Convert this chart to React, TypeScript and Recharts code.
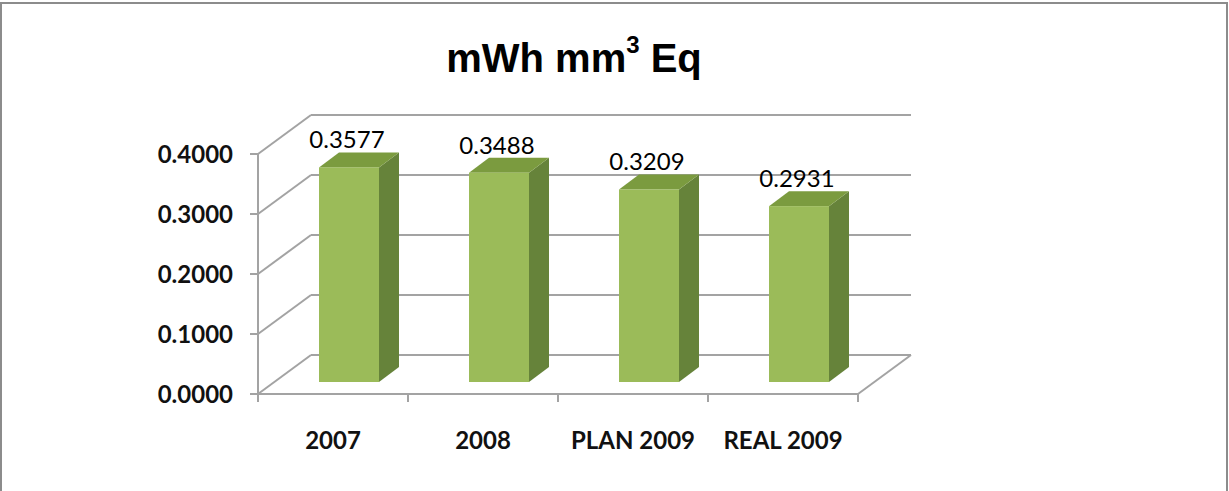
import React from 'react';
import { BarChart, Bar, XAxis, YAxis, CartesianGrid, LabelList } from 'recharts';

const categories = ['2007', '2008', 'PLAN 2009', 'REAL 2009'];
const values = [0.3577, 0.3488, 0.3209, 0.2931];
const yTicks = [0, 0.1, 0.2, 0.3, 0.4];
const titleMain = 'mWh mm';
const titleSup = '3';
const titleEnd = ' Eq';

const data = categories.map((c, i) => ({ name: c, value: values[i] }));

// layout constants (3D projection)
const W = 1229;
const H = 491;
const PLOT_LEFT = 258;
const PLOT_RIGHT = 858;
const PLOT_TOP = 154;
const PLOT_BOTTOM = 394;
const DEPTH_X = 53; // floor depth vector
const DEPTH_Y = -39;
const BAR_OFF_X = 16; // bar front plane offset from front
const BAR_OFF_Y = -12;
const BAR_D_X = 20; // bar depth
const BAR_D_Y = -15;
const SLOT = (PLOT_RIGHT - PLOT_LEFT) / categories.length;

const GRID = '#a3a3a3';
const FRONT = '#9BBB59';
const TOP = '#7B9B3F';
const SIDE = '#66833A';
const LABEL_FONT = 'Lato, "Open Sans", sans-serif';

const Box3D = (props: any) => {
  const { x, y, width, height } = props;
  if (height == null || width == null) return null;
  const fx = x + BAR_OFF_X;
  const fy = y + BAR_OFF_Y;
  const top = `${fx},${fy} ${fx + width},${fy} ${fx + width + BAR_D_X},${fy + BAR_D_Y} ${fx + BAR_D_X},${fy + BAR_D_Y}`;
  const side = `${fx + width},${fy} ${fx + width + BAR_D_X},${fy + BAR_D_Y} ${fx + width + BAR_D_X},${fy + height + BAR_D_Y} ${fx + width},${fy + height}`;
  return (
    <g>
      <polygon points={side} fill={SIDE} />
      <polygon points={top} fill={TOP} />
      <rect x={fx} y={fy} width={width} height={height} fill={FRONT} />
    </g>
  );
};

const GridLine = (props: any) => {
  const { x1, x2, y1, index } = props;
  const bx = x1 + DEPTH_X;
  const by = y1 + DEPTH_Y;
  return (
    <g key={`g-${index}`}>
      <line x1={x1} y1={y1} x2={bx} y2={by} stroke={GRID} strokeWidth={2} />
      <line x1={bx} y1={by} x2={x2 + DEPTH_X} y2={by} stroke={GRID} strokeWidth={2} />
      {index === 0 ? (
        <line x1={x2} y1={y1} x2={x2 + DEPTH_X} y2={by} stroke={GRID} strokeWidth={2} />
      ) : null}
    </g>
  );
};

const YTick = (props: any) => {
  const { x, y, payload } = props;
  return (
    <text x={x} y={y} dy="0.36em" textAnchor="end" fontFamily={LABEL_FONT} fontWeight={700} fontSize={24} fill="#111">
      {Number(payload.value).toFixed(4)}
    </text>
  );
};

const XTick = (props: any) => {
  const { x, payload, index } = props;
  const last = index === categories.length - 1;
  return (
    <g>
      <line x1={x - SLOT / 2} y1={PLOT_BOTTOM} x2={x - SLOT / 2} y2={PLOT_BOTTOM + 8} stroke={GRID} strokeWidth={2} />
      {last ? (
        <line x1={x + SLOT / 2} y1={PLOT_BOTTOM} x2={x + SLOT / 2} y2={PLOT_BOTTOM + 8} stroke={GRID} strokeWidth={2} />
      ) : null}
      <text x={x} y={449} textAnchor="middle" fontFamily={LABEL_FONT} fontWeight={700} fontSize={24} fill="#111">
        {payload.value}
      </text>
    </g>
  );
};

const ValueLabel = (props: any) => {
  const { x, y, width, value } = props;
  if (x == null || y == null) return null;
  return (
    <text
      x={x + BAR_OFF_X + width / 2 - 2}
      y={y + BAR_OFF_Y + BAR_D_Y - 4}
      textAnchor="middle"
      fontFamily={LABEL_FONT}
      fontSize={24}
      fill="#000"
    >
      {Number(value).toFixed(4)}
    </text>
  );
};

export default function App() {
  return (
    <div style={{ position: 'absolute', left: 0, top: 0, width: W, height: H, background: '#fff', overflow: 'hidden' }}>
      <div
        style={{
          position: 'absolute',
          left: 0,
          top: 2,
          width: W - 1,
          height: H + 10,
          border: '2px solid #8c8c8c',
          boxSizing: 'border-box',
        }}
      />
      <div style={{ position: 'absolute', left: 0, top: 0 }}>
        <BarChart
          width={W}
          height={H}
          data={data}
          margin={{ top: PLOT_TOP, right: W - PLOT_RIGHT, bottom: H - PLOT_BOTTOM - 60, left: PLOT_LEFT - 60 }}
          barCategoryGap="30%"
        >
          <CartesianGrid vertical={false} horizontal={(p: any) => <GridLine {...p} />} stroke={GRID} />
          <XAxis
            dataKey="name"
            height={60}
            axisLine={{ stroke: GRID, strokeWidth: 2 }}
            tickLine={false}
            tick={<XTick />}
            interval={0}
          />
          <YAxis
            width={60}
            domain={[0, 0.4]}
            ticks={yTicks}
            interval={0}
            axisLine={{ stroke: GRID, strokeWidth: 2 }}
            tickLine={{ stroke: GRID, strokeWidth: 2 }}
            tickSize={8}
            tickMargin={17}
            tick={<YTick />}
          />
          <Bar dataKey="value" shape={<Box3D />} isAnimationActive={false}>
            <LabelList dataKey="value" content={<ValueLabel />} />
          </Bar>
        </BarChart>
      </div>
      <svg width={W} height={H} style={{ position: 'absolute', left: 0, top: 0, pointerEvents: 'none' }}>
        <text x={574} y={72} textAnchor="middle" fontFamily='"Liberation Sans", Arial, sans-serif' fontWeight={700} fontSize={40} fill="#000">
          {titleMain}
          <tspan dy={-19} fontSize={24}>{titleSup}</tspan>
          <tspan dy={19}>{titleEnd}</tspan>
        </text>
      </svg>
    </div>
  );
}
